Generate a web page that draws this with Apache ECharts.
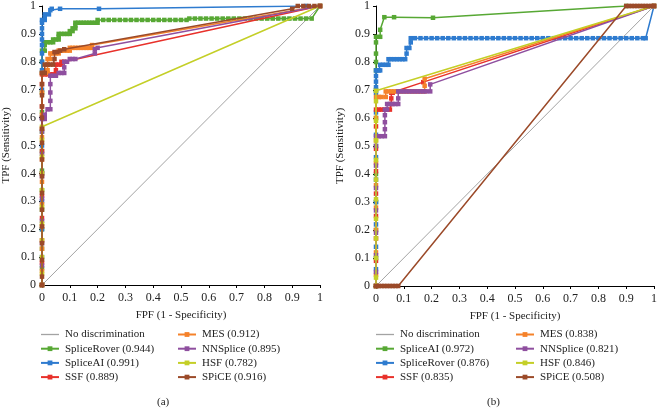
<!DOCTYPE html>
<html><head><meta charset="utf-8">
<script src="https://cdn.jsdelivr.net/npm/echarts@6/dist/echarts.min.js"></script>
<style>html,body{margin:0;padding:0;background:#fff}#c{width:660px;height:408px}</style>
</head><body><div id="c"></div>
<script>
// Tick labels
const tickLabels = ['0','0.1','0.2','0.3','0.4','0.5','0.6','0.7','0.8','0.9','1'];
const xAxisTitle = 'FPF (1 - Specificity)';
const yAxisTitle = 'TPF (Sensitivity)';
const panelLabels = ['(a)', '(b)'];

// Panel (a) series names (legend order)
const namesA = ['No discrimination','SpliceRover (0.944)','SpliceAI (0.991)','SSF (0.889)','MES (0.912)','NNSplice (0.895)','HSF (0.782)','SPiCE (0.916)'];
// Panel (b) series names (legend order)
const namesB = ['No discrimination','SpliceAI (0.972)','SpliceRover (0.876)','SSF (0.835)','MES (0.838)','NNSplice (0.821)','HSF (0.846)','SPiCE (0.508)'];

// ---- Panel (a) data: [FPF, TPF] ----
const a_none = [[0,0],[1,1]];
const a_spliceRover = [[0,0],[0,0.06],[0,0.13],[0,0.2],[0,0.27],[0,0.34],[0,0.41],[0,0.48],[0,0.55],[0,0.62],[0,0.69],[0,0.76],[0,0.8],[0,0.84],[0.01,0.84],[0.01,0.86],[0.01,0.87],[0.02,0.87],[0.03,0.87],[0.04,0.87],[0.04,0.88],[0.05,0.88],[0.06,0.88],[0.06,0.89],[0.06,0.9],[0.07,0.9],[0.08,0.9],[0.09,0.9],[0.1,0.9],[0.1,0.91],[0.11,0.91],[0.11,0.92],[0.12,0.92],[0.12,0.93],[0.12,0.94],[0.13,0.94],[0.14,0.94],[0.15,0.94],[0.16,0.94],[0.17,0.94],[0.18,0.94],[0.19,0.94],[0.2,0.94],[0.2,0.95],[0.22,0.95],[0.24,0.95],[0.26,0.95],[0.28,0.95],[0.3,0.95],[0.32,0.95],[0.34,0.95],[0.36,0.95],[0.38,0.95],[0.4,0.95],[0.42,0.95],[0.44,0.95],[0.46,0.95],[0.48,0.95],[0.5,0.95],[0.52,0.95],[0.53,0.955],[0.55,0.955],[0.57,0.955],[0.59,0.955],[0.61,0.955],[0.63,0.955],[0.65,0.955],[0.67,0.955],[0.69,0.955],[0.71,0.955],[0.73,0.955],[0.75,0.955],[0.77,0.955],[0.79,0.955],[0.81,0.955],[0.83,0.955],[0.85,0.955],[0.87,0.955],[0.89,0.955],[0.91,0.955],[0.93,0.955],[0.95,0.955],[0.97,0.955],[1,1]];
const a_spliceAI = [[0,0],[0,0.1],[0,0.2],[0,0.3],[0,0.4],[0,0.5],[0,0.6],[0,0.7],[0,0.77],[0,0.8],[0,0.83],[0,0.86],[0,0.88],[0,0.9],[0,0.92],[0,0.94],[0,0.95],[0.01,0.95],[0.01,0.96],[0.01,0.97],[0.025,0.97],[0.03,0.985],[0.035,0.99],[0.065,0.99],[0.205,0.99],[0.95,1],[1,1]];
const a_ssf = [[0,0],[0,0.08],[0,0.16],[0,0.24],[0,0.32],[0,0.4],[0,0.48],[0,0.56],[0,0.64],[0,0.72],[0,0.755],[0.01,0.755],[0.02,0.755],[0.03,0.755],[0.04,0.755],[0.05,0.755],[0.05,0.77],[0.05,0.79],[0.06,0.79],[0.07,0.79],[0.07,0.8],[0.08,0.8],[1,1]];
const a_mes = [[0,0],[0,0.05],[0,0.13],[0,0.21],[0,0.29],[0,0.37],[0,0.45],[0,0.53],[0,0.61],[0,0.69],[0,0.76],[0.01,0.76],[0.02,0.76],[0.02,0.77],[0.02,0.79],[0.02,0.81],[0.03,0.81],[0.03,0.83],[0.04,0.83],[0.05,0.83],[0.06,0.83],[0.06,0.84],[0.07,0.84],[0.08,0.84],[0.09,0.84],[0.1,0.84],[0.1,0.85],[0.11,0.85],[0.12,0.85],[0.13,0.85],[0.14,0.85],[0.15,0.85],[0.16,0.85],[0.17,0.85],[0.18,0.85],[0.18,0.86],[1,1]];
const a_nnsplice = [[0,0],[0,0.07],[0,0.15],[0,0.23],[0,0.31],[0,0.39],[0,0.47],[0,0.55],[0,0.595],[0.01,0.595],[0.01,0.61],[0.02,0.63],[0.03,0.63],[0.03,0.66],[0.03,0.69],[0.03,0.72],[0.03,0.75],[0.04,0.75],[0.05,0.75],[0.06,0.76],[0.07,0.76],[0.08,0.76],[0.08,0.78],[0.08,0.8],[0.09,0.8],[0.1,0.81],[0.11,0.81],[0.12,0.81],[0.19,0.83],[0.19,0.845],[0.2,0.85],[1,1]];
const a_hsf = [[0,0],[0,0.04],[0,0.1],[0,0.16],[0,0.22],[0,0.28],[0,0.34],[0,0.4],[0,0.46],[0,0.52],[0,0.567],[1,1]];
const a_spice = [[0,0],[0,0.03],[0,0.09],[0,0.15],[0,0.21],[0,0.27],[0,0.33],[0,0.39],[0,0.45],[0,0.51],[0,0.56],[0,0.6],[0,0.64],[0,0.68],[0,0.72],[0,0.76],[0.01,0.76],[0.01,0.79],[0.02,0.79],[0.03,0.79],[0.04,0.79],[0.045,0.81],[0.045,0.835],[0.055,0.835],[0.065,0.84],[0.08,0.845],[0.9,0.99],[0.92,1],[0.94,1],[0.96,1],[0.98,1],[1,1]];

// ---- Panel (b) data: [FPF, TPF] ----
const b_none = [[0,0],[1,1]];
const b_spliceAI = [[0,0],[0,0.1],[0,0.2],[0,0.3],[0,0.4],[0,0.5],[0,0.6],[0,0.7],[0,0.77],[0,0.8],[0,0.83],[0,0.87],[0,0.89],[0.015,0.89],[0.015,0.915],[0.03,0.96],[0.065,0.96],[0.205,0.958],[0.9,1],[1,1]];
const b_spliceRover = [[0,0],[0,0.06],[0,0.14],[0,0.22],[0,0.3],[0,0.38],[0,0.46],[0,0.54],[0,0.62],[0,0.69],[0,0.71],[0,0.73],[0,0.75],[0,0.77],[0.01,0.77],[0.015,0.77],[0.015,0.79],[0.025,0.79],[0.035,0.79],[0.045,0.79],[0.045,0.81],[0.055,0.81],[0.065,0.81],[0.075,0.81],[0.085,0.81],[0.095,0.81],[0.105,0.81],[0.11,0.83],[0.11,0.85],[0.12,0.85],[0.125,0.87],[0.125,0.885],[0.14,0.885],[0.16,0.885],[0.18,0.885],[0.2,0.885],[0.22,0.885],[0.24,0.885],[0.26,0.885],[0.28,0.885],[0.3,0.885],[0.32,0.885],[0.34,0.885],[0.36,0.885],[0.38,0.885],[0.4,0.885],[0.42,0.885],[0.44,0.885],[0.46,0.885],[0.48,0.885],[0.5,0.885],[0.52,0.885],[0.54,0.885],[0.56,0.885],[0.58,0.885],[0.6,0.885],[0.62,0.885],[0.64,0.885],[0.66,0.885],[0.68,0.885],[0.7,0.885],[0.72,0.885],[0.74,0.885],[0.76,0.885],[0.78,0.885],[0.8,0.885],[0.82,0.885],[0.84,0.885],[0.86,0.885],[0.88,0.885],[0.9,0.885],[0.92,0.885],[0.94,0.885],[0.96,0.885],[0.97,0.885],[1,1]];
const b_ssf = [[0,0],[0,0.09],[0,0.17],[0,0.25],[0,0.33],[0,0.41],[0,0.49],[0,0.57],[0,0.63],[0.01,0.63],[0.02,0.63],[0.03,0.63],[0.04,0.63],[0.05,0.63],[0.055,0.65],[0.055,0.67],[0.055,0.69],[0.06,0.69],[0.17,0.728],[1,1]];
const b_mes = [[0,0],[0,0.04],[0,0.12],[0,0.2],[0,0.28],[0,0.36],[0,0.44],[0,0.52],[0,0.6],[0,0.675],[0.01,0.675],[0.02,0.675],[0.035,0.675],[0.035,0.695],[0.045,0.695],[0.055,0.695],[0.065,0.695],[0.075,0.695],[0.085,0.695],[0.095,0.695],[0.105,0.695],[0.115,0.695],[0.125,0.695],[0.135,0.695],[0.145,0.695],[0.155,0.695],[0.165,0.695],[0.175,0.695],[0.175,0.715],[0.175,0.74],[1,1]];
const b_nnsplice = [[0,0],[0,0.05],[0,0.11],[0,0.19],[0,0.27],[0,0.35],[0,0.43],[0,0.5],[0,0.535],[0.01,0.535],[0.02,0.535],[0.032,0.535],[0.032,0.56],[0.032,0.585],[0.032,0.61],[0.032,0.63],[0.04,0.63],[0.04,0.65],[0.05,0.65],[0.06,0.65],[0.07,0.65],[0.08,0.65],[0.08,0.67],[0.08,0.695],[0.09,0.695],[0.1,0.695],[0.11,0.695],[0.12,0.695],[0.13,0.695],[0.14,0.695],[0.15,0.695],[0.16,0.695],[0.17,0.695],[0.18,0.695],[0.195,0.695],[0.195,0.72],[1,1]];
const b_hsf = [[0,0],[0,0.03],[0,0.1],[0,0.17],[0,0.24],[0,0.31],[0,0.38],[0,0.45],[0,0.52],[0,0.59],[0,0.66],[0,0.697],[1,1]];
const b_spice = [[0,0],[0.01,0],[0.02,0],[0.03,0],[0.04,0],[0.05,0],[0.06,0],[0.07,0],[0.08,0],[0.9,1],[0.91,1],[0.92,1],[0.93,1],[0.94,1],[0.95,1],[0.96,1],[0.97,1],[0.98,1],[0.99,1],[1,1]];

const dataA = [a_none, a_spliceRover, a_spliceAI, a_ssf, a_mes, a_nnsplice, a_hsf, a_spice];
const dataB = [b_none, b_spliceAI, b_spliceRover, b_ssf, b_mes, b_nnsplice, b_hsf, b_spice];

const C = {gray:'#a3a3a3', green:'#57a834', blue:'#2e7bcf', red:'#e8312b', orange:'#f5822a', purple:'#8f4f9f', yellow:'#c4cf27', brown:'#9b4a29'};
const colorsA = [C.gray, C.green, C.blue, C.red, C.orange, C.purple, C.yellow, C.brown];
const colorsB = [C.gray, C.green, C.blue, C.red, C.orange, C.purple, C.yellow, C.brown];

const FONT = 'Liberation Serif';
const TXT = '#222';

function mkSeries(names, datas, colors, idx) {
  return names.map((n, i) => ({
    name: n, type: 'line', xAxisIndex: idx, yAxisIndex: idx,
    data: datas[i],
    symbol: i === 0 ? 'none' : 'rect',
    symbolSize: 4.5,
    showSymbol: i !== 0,
    lineStyle: {color: colors[i], width: i === 0 ? 1 : 1.5},
    itemStyle: {color: colors[i]},
    animation: false,
    z: 2 + i
  }));
}

function mkX(idx) {
  return {
    type: 'value', gridIndex: idx, min: 0, max: 1, interval: 0.1,
    splitLine: {show: false},
    axisLine: {show: true, lineStyle: {color: '#000', width: 1}},
    axisTick: {show: true, length: 3, lineStyle: {color: '#000'}},
    axisLabel: {fontFamily: FONT, fontSize: 12, color: TXT, margin: 7,
      formatter: v => tickLabels[Math.round(v * 10)]},
    name: xAxisTitle, nameLocation: 'middle', nameGap: 25,
    nameTextStyle: {fontFamily: FONT, fontSize: 11, color: TXT}
  };
}
function mkY(idx) {
  return {
    type: 'value', gridIndex: idx, min: 0, max: 1, interval: 0.1,
    splitLine: {show: false},
    axisLine: {show: true, lineStyle: {color: '#000', width: 1}},
    axisTick: {show: true, length: 3, lineStyle: {color: '#000'}},
    axisLabel: {fontFamily: FONT, fontSize: 12, color: TXT, margin: 6,
      formatter: v => tickLabels[Math.round(v * 10)]},
    name: yAxisTitle, nameLocation: 'middle', nameGap: 30,
    nameTextStyle: {fontFamily: FONT, fontSize: 11, color: TXT}
  };
}
function mkLegend(names, left, gray) {
  return {
    data: names.map(n => n === 'No discrimination'
      ? {name: n, icon: 'path://M0,0h18v1.3h-18z', itemStyle: {color: gray}}
      : n),
    orient: 'vertical', left: left, top: 329, padding: 0,
    itemWidth: 18, itemHeight: 6, itemGap: 3.2,
    selectedMode: false,
    textStyle: {fontFamily: FONT, fontSize: 11, color: TXT, padding: [0,0,0,1]}
  };
}

const chart = echarts.init(document.getElementById('c'), null, {renderer: 'canvas'});
chart.setOption({
  animation: false,
  backgroundColor: '#fff',
  grid: [
    {left: 39, top: 4, width: 281, height: 281},
    {left: 376, top: 5, width: 282, height: 281}
  ],
  xAxis: [mkX(0), mkX(1)],
  yAxis: [mkY(0), mkY(1)],
  legend: [
    mkLegend(namesA.slice(0,4), 40, C.gray),
    mkLegend(namesA.slice(4), 177, C.gray),
    mkLegend(namesB.slice(0,4), 375, C.gray),
    mkLegend(namesB.slice(4), 515, C.gray)
  ],
  graphic: [
    {type: 'text', left: 157, top: 397, style: {text: panelLabels[0], font: '11px "Liberation Serif"', fill: TXT}},
    {type: 'text', left: 487, top: 397, style: {text: panelLabels[1], font: '11px "Liberation Serif"', fill: TXT}}
  ],
  series: [...mkSeries(namesA, dataA, colorsA, 0), ...mkSeries(namesB, dataB, colorsB, 1)]
});
</script>
</body></html>
